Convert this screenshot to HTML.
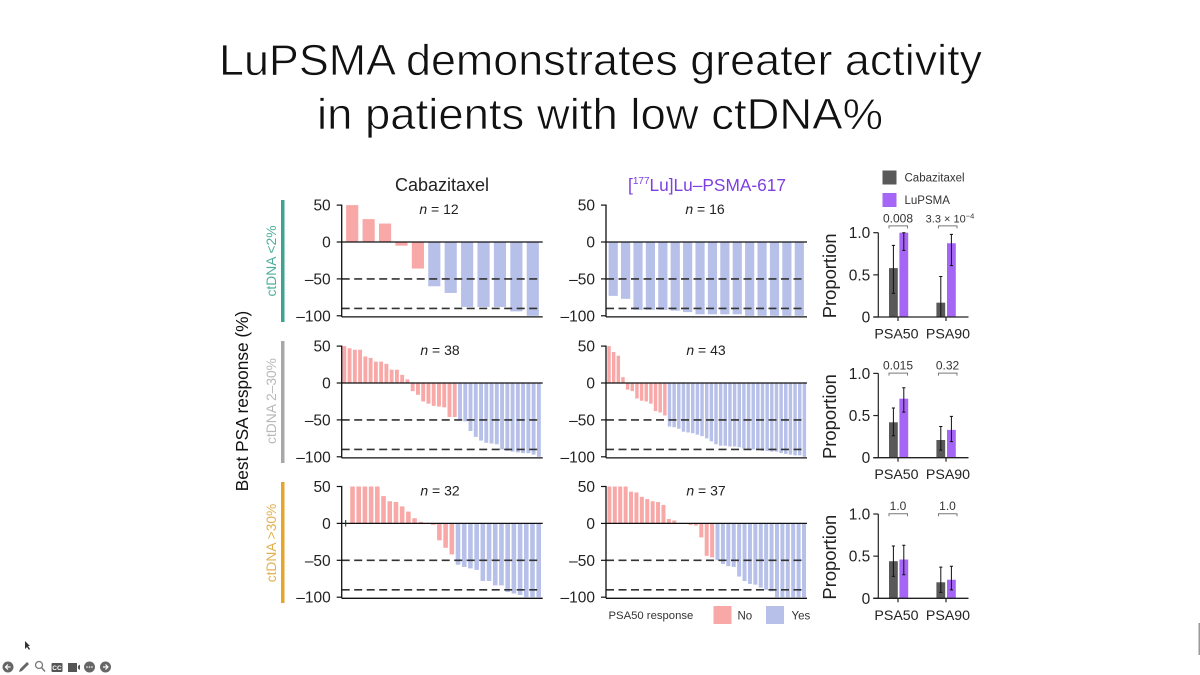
<!DOCTYPE html>
<html lang="en">
<head>
<meta charset="utf-8">
<title>LuPSMA demonstrates greater activity</title>
<style>
html,body{margin:0;padding:0;background:#fff;width:1200px;height:675px;overflow:hidden}
svg{display:block}
text{font-family:"Liberation Sans",sans-serif}
</style>
</head>
<body>
<svg id="chart" width="1200" height="675" viewBox="0 0 1200 675" xmlns="http://www.w3.org/2000/svg">
  <rect width="1200" height="675" fill="#fff"/>
  <text x="219" y="75" font-size="44" fill="#111" stroke="#fff" stroke-width="0.7" textLength="763" lengthAdjust="spacingAndGlyphs">LuPSMA demonstrates greater activity</text>
  <text x="317" y="129" font-size="44" fill="#111" stroke="#fff" stroke-width="0.7" textLength="566" lengthAdjust="spacingAndGlyphs">in patients with low ctDNA%</text>

  <text x="442" y="191" font-size="18" fill="#222" text-anchor="middle">Cabazitaxel</text>
  <text x="707" y="191" font-size="17.3" fill="#7d3fe0" text-anchor="middle">[<tspan font-size="10" dy="-7">177</tspan><tspan dy="7">Lu]Lu–PSMA-617</tspan></text>

  <text transform="translate(248,401) rotate(-90)" font-size="17.3" fill="#111" text-anchor="middle">Best PSA response (%)</text>

  <rect x="281" y="200" width="3.5" height="122" fill="#3fa48f"/>
  <rect x="281" y="341" width="3.5" height="122" fill="#a8a8a8"/>
  <rect x="281" y="482" width="3.5" height="121" fill="#e5a62c"/>
  <text transform="translate(276,261) rotate(-90)" font-size="13.8" fill="#4fae9a" text-anchor="middle">ctDNA &lt;2%</text>
  <text transform="translate(276,401) rotate(-90)" font-size="13.8" fill="#b8b8b8" text-anchor="middle">ctDNA 2–30%</text>
  <text transform="translate(276,543) rotate(-90)" font-size="13.8" fill="#e3b04f" text-anchor="middle">ctDNA &gt;30%</text>

  <rect x="882.5" y="170.5" width="14" height="14" fill="#595959"/>
  <text x="904.5" y="181.5" font-size="11.5" fill="#333">Cabazitaxel</text>
  <rect x="882.5" y="193" width="14" height="14" fill="#a566f5"/>
  <text x="904.5" y="204" font-size="11.5" fill="#333">LuPSMA</text>

  <text x="608.5" y="619" font-size="11.3" fill="#333">PSA50 response</text>
  <rect x="713.5" y="606" width="18" height="18" fill="#f9a8a8"/>
  <text x="737.5" y="619.5" font-size="11.5" fill="#333">No</text>
  <rect x="766" y="606" width="18" height="18" fill="#b6c0e8"/>
  <text x="791.5" y="619.5" font-size="11.5" fill="#333">Yes</text>

  <g id="panels"></g>
  <g id="props"></g>
  <line x1="345.7" x2="345.7" y1="520" y2="526.5" stroke="#222" stroke-width="1"/>

  <g>
    <path d="M25 641 L25 649 L27 647 L29 650 L30 649 L28 646 L30 646 Z" fill="#333"/>
    <g><circle cx="8" cy="667" r="5.5" fill="#666"/><path d="M10.5 667H5.5M8 664.5L5.5 667L8 669.5" stroke="#fff" stroke-width="1.2" fill="none"/></g>
    <path d="M19 672 L20 669 L27 662 L29 664 L22 671 Z" fill="#666"/>
    <g><circle cx="39" cy="665" r="3.5" fill="none" stroke="#777" stroke-width="1.3"/><path d="M41.5 667.5L45 671.5" stroke="#777" stroke-width="1.5"/></g>
    <g><rect x="51.5" y="663" width="11" height="9" rx="1" fill="#555"/><text x="57" y="670" font-size="6.5" font-weight="bold" fill="#fff" text-anchor="middle">CC</text></g>
    <g><rect x="68" y="663" width="9" height="9" fill="#555"/><path d="M78 666L80 664.5V670L78 668.5Z" fill="#555"/></g>
    <g><circle cx="89.5" cy="667" r="5.5" fill="#666"/><circle cx="87" cy="667" r=".8" fill="#fff"/><circle cx="89.5" cy="667" r=".8" fill="#fff"/><circle cx="92" cy="667" r=".8" fill="#fff"/></g>
    <g><circle cx="105.5" cy="667" r="5.5" fill="#666"/><path d="M103 667H108M105.5 664.5L108 667L105.5 669.5" stroke="#fff" stroke-width="1.2" fill="none"/></g>
    <rect x="1198.5" y="623" width="1.5" height="32" fill="#9a9a9a"/>
  </g>
</svg>
<script>
// Waterfall data: best PSA response (%) per patient
const cabLow = [50,31,25,-5,-36,-60,-69,-88,-88,-88,-94,-100];
const luLow = [-73,-77,-92,-92,-92,-93,-95,-98,-98,-98,-98,-100,-100,-100,-100,-100];
const cabMid = [50,47,45,45,36,34,29,29,26,18,18,11,5,-11,-16,-25,-28,-31,-32,-33,-46,-46,-51,-52,-65,-73,-78,-81,-82,-83,-90,-92,-93,-94,-95,-95,-97,-100];
const luMid = [50,42,37,8,-9,-11,-21,-24,-25,-28,-38,-40,-44,-59,-60,-62,-66,-67,-68,-70,-72,-75,-79,-83,-85,-85,-86,-86,-87,-89,-90,-90,-91,-92,-92,-93,-93,-95,-96,-97,-98,-98,-100];
const cabHigh = [0,50,50,50,50,50,37,30,29,23,16,7,2,0,-2,-23,-33,-42,-56,-59,-61,-63,-78,-78,-84,-84,-93,-95,-97,-100,-100,-100];
const luHigh = [50,50,50,50,43,42,36,33,30,29,25,6,4,0,0,-2,-3,-19,-44,-46,-50,-55,-58,-59,-72,-78,-82,-83,-87,-90,-92,-100,-100,-100,-100,-100,-100];
const waterfallTicks = [50,0,-50,-100];
const thresholds = [-50,-90];

// Proportion data: [PSA50 cabazitaxel, PSA50 LuPSMA, PSA90 cabazitaxel, PSA90 LuPSMA]
const propLow = [0.58,1.0,0.17,0.875];
const propLowLo = [0.28,0.79,0,0.61];
const propLowHi = [0.85,1.0,0.48,0.98];
const propMid = [0.42,0.70,0.21,0.33];
const propMidLo = [0.26,0.54,0.09,0.19];
const propMidHi = [0.59,0.83,0.37,0.49];
const propHigh = [0.44,0.46,0.19,0.22];
const propHighLo = [0.26,0.28,0.07,0.10];
const propHighHi = [0.62,0.63,0.37,0.38];
const propTicks = [1,0.5,0];
const propTickLabels = ['1.0','0.5','0'];
const endpointLabels = ['PSA50','PSA90'];
const pValuesLow = ['0.008','3.3 × 10'];
const pValuesMid = ['0.015','0.32'];
const pValuesHigh = ['1.0','1.0'];
const nsCab = ['12','38','32'];
const nsLu = ['16','43','37'];

const NS = 'http://www.w3.org/2000/svg';
const gPanels = document.getElementById('panels');
const gProps = document.getElementById('props');

function make(tag, attrs, parent, txt) {
  const e = document.createElementNS(NS, tag);
  for (const k in attrs) e.setAttribute(k, attrs[k]);
  if (txt !== undefined) e.textContent = txt;
  parent.appendChild(e);
  return e;
}

// Layout of each waterfall: zero line y for the row, x extent for the column
const rowZero = [242, 383, 523.4];
const unitPx = 0.738;
function waterfall(values, n, rowIndex, axisX, bandL, bandR, nCenter, tag) {
  const y = v => rowZero[rowIndex] - v * unitPx;
  const band = (bandR - bandL) / values.length;
  const x = i => bandL + i * band;
  const barW = band * 0.74;
  const axisEnd = axisX + 201;

  values.forEach((v, i) => {
    const top = Math.min(y(v), y(0));
    const h = Math.abs(y(v) - y(0));
    const bar = make('rect', {x: x(i) + (band - barW) / 2, y: top, width: barW, height: h, fill: v <= -50 ? '#b6c0e8' : '#f9a8a8'}, gPanels);
    
    
  });

  thresholds.forEach(t => {
    const line = make('line', {x1: axisX, x2: axisEnd - 3, y1: y(t), y2: y(t), stroke: '#333', 'stroke-width': 1.6, 'stroke-dasharray': '8 4.5'}, gPanels);
    
    
  });

  const zero = make('line', {x1: axisX, x2: axisEnd, y1: y(0), y2: y(0), stroke: '#111', 'stroke-width': 1.3}, gPanels);
  
  

  const base = make('line', {x1: axisX, x2: axisEnd, y1: y(-101.5), y2: y(-101.5), stroke: '#111', 'stroke-width': 1.3}, gPanels);
  
  

  const yAxis = make('line', {x1: axisX, x2: axisX, y1: y(50) - 0.6, y2: y(-101.5), stroke: '#111', 'stroke-width': 1.3}, gPanels);
  
  

  waterfallTicks.forEach(t => {
    const tick = make('line', {x1: axisX - 5, x2: axisX, y1: y(t), y2: y(t), stroke: '#111', 'stroke-width': 1.2}, gPanels);
    
    
    const label = make('text', {x: axisX - 11, y: y(t) + 5.5, 'font-size': 15.5, fill: '#222', 'text-anchor': 'end'}, gPanels, String(t).replace('-', '–'));
    
    
  });

  const nLabel = make('text', {x: nCenter, y: rowZero[rowIndex] - 28, 'font-size': 14, fill: '#222', 'text-anchor': 'middle'}, gPanels);
  
  
  make('tspan', {'font-style': 'italic'}, nLabel, 'n');
  make('tspan', {}, nLabel, ' = ' + n);
}

waterfall(cabLow, nsCab[0], 0, 341.7, 344, 541, 439, 'cabazitaxel-low');
waterfall(luLow, nsLu[0], 0, 606, 607, 805.5, 705, 'lupsma-low');
waterfall(cabMid, nsCab[1], 1, 341.7, 341.7, 541.5, 440, 'cabazitaxel-mid');
waterfall(luMid, nsLu[1], 1, 606, 606.7, 806.7, 706, 'lupsma-mid');
waterfall(cabHigh, nsCab[2], 2, 341.7, 343.2, 541.8, 440, 'cabazitaxel-high');
waterfall(luHigh, nsLu[2], 2, 606, 606.7, 806.7, 706, 'lupsma-high');

// Proportion bar panels
const propBase = [317, 457.7, 598.3];
const propHeight = 84.3;
const bracketLift = [6.5, 0, 0];
const slotX = [889, 899.4, 936.4, 947];
const tickX = [898, 946];
function proportion(vals, lo, hi, pvals, rowIndex, tag) {
  const y = v => propBase[rowIndex] - v * propHeight;
  const axisX = 878.3;

  vals.forEach((v, i) => {
    const bar = make('rect', {x: slotX[i], y: y(v), width: 8.8, height: y(0) - y(v), fill: i % 2 ? '#a566f5' : '#595959'}, gProps);
    
    
  });
  vals.forEach((v, i) => {
    const cx = slotX[i] + 4.4;
    const err = make('path', {d: 'M' + (cx - 1.6) + ' ' + y(hi[i]) + 'H' + (cx + 1.6) + 'M' + cx + ' ' + y(hi[i]) + 'V' + y(lo[i]) + 'M' + (cx - 1.6) + ' ' + y(lo[i]) + 'H' + (cx + 1.6), stroke: '#111', 'stroke-width': 1, fill: 'none'}, gProps);
    
    
  });

  const xAxis = make('line', {x1: axisX - 5, x2: 968.5, y1: y(0), y2: y(0), stroke: '#222', 'stroke-width': 1.3}, gProps);
  
  

  const yAxis = make('line', {x1: axisX, x2: axisX, y1: y(1), y2: y(0), stroke: '#222', 'stroke-width': 1.2}, gProps);
  
  

  propTicks.forEach((t, i) => {
    const tick = make('line', {x1: axisX - 5, x2: axisX, y1: y(t), y2: y(t), stroke: '#222', 'stroke-width': 1.2}, gProps);
    
    
    const label = make('text', {x: axisX - 8, y: y(t) + 5.5, 'font-size': 15.5, fill: '#222', 'text-anchor': 'end'}, gProps, propTickLabels[i]);
    
    
  });

  const title = make('text', {transform: 'translate(836,' + (y(0.5) + 1) + ') rotate(-90)', 'font-size': 18.4, fill: '#222', 'text-anchor': 'middle'}, gProps, 'Proportion');
  
  

  endpointLabels.forEach((lab, i) => {
    const tick = make('line', {x1: tickX[i], x2: tickX[i], y1: y(0), y2: y(0) + 4, stroke: '#222', 'stroke-width': 1.2}, gProps);
    
    
    const label = make('text', {x: i ? 948 : 896.5, y: y(0) + 21.5, 'font-size': 14.2, fill: '#222', 'text-anchor': 'middle'}, gProps, lab);
    
    

    const bx = i ? 938.5 : 889;
    const bracketY = y(1) - 0.3 - bracketLift[rowIndex];
    const bracket = make('path', {d: 'M' + bx + ' ' + (bracketY + 2.5) + 'V' + bracketY + 'H' + (bx + 18.5) + 'V' + (bracketY + 2.5), stroke: '#777', 'stroke-width': 1, fill: 'none'}, gProps);
    
    

    const p = make('text', {x: bx + 9, y: bracketY - 3.5, 'font-size': 12, fill: '#333', 'text-anchor': 'middle'}, gProps, pvals[i]);
    
    
    if (pvals[i].indexOf('×') >= 0) {
      p.setAttribute('x', bx + 11.5);
      p.setAttribute('font-size', 11);
      make('tspan', {'font-size': 7.5, dy: -4}, p, '−4');
    }
  });
}
proportion(propLow, propLowLo, propLowHi, pValuesLow, 0, 'low');
proportion(propMid, propMidLo, propMidHi, pValuesMid, 1, 'mid');
proportion(propHigh, propHighLo, propHighHi, pValuesHigh, 2, 'high');
</script>
</body>
</html>
